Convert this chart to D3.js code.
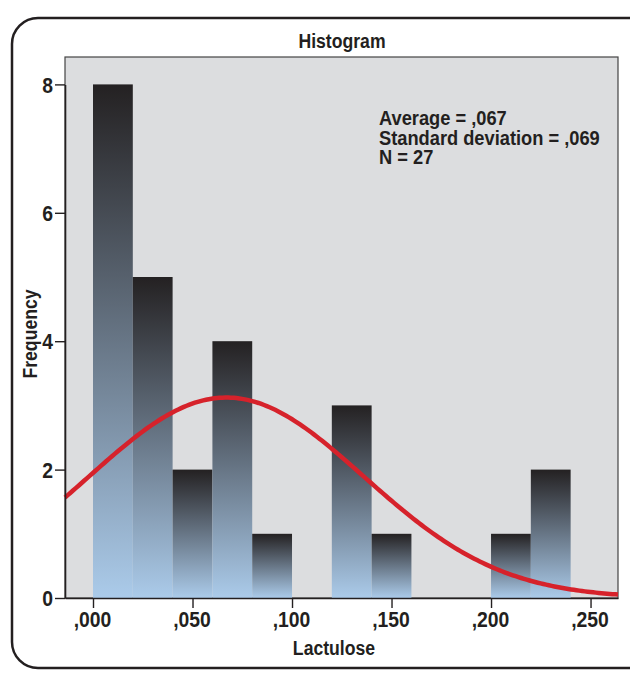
<!DOCTYPE html>
<html>
<head>
<meta charset="utf-8">
<script src="https://cdn.jsdelivr.net/npm/d3@7"></script>
<style>
  body { margin: 0; background: #fff; }
  svg text { font-family: "Liberation Sans", Arial, sans-serif; font-weight: bold; fill: #231f20; }
</style>
</head>
<body>
<svg id="chart" width="630" height="678"></svg>
<script>
(function(){
    // histogram bins (lower edge), bin width .02
    var binStarts = [0, .02, .04, .06, .08, .10, .12, .14, .16, .18, .20, .22];
    var counts    = [8, 5, 2, 4, 1, 0, 3, 1, 0, 0, 1, 2];
    var binWidth = .02;
    var xTicks = [0, .05, .10, .15, .20, .25];
    var yTicks = [0, 2, 4, 6, 8];
    var stats = { mean: .067, sd: .069, n: 27 };
    var statLines = ['Average = ,067', 'Standard deviation = ,069', 'N = 27'];

    var plot = {left: 65, right: 618, top: 57, bottom: 598};
    var ink = '#231f20';

    var svg = d3.select('#chart');
    var defs = svg.append('defs');
    var grad = defs.append('linearGradient')
        .attr('id', 'barGrad')
        .attr('x1', 0).attr('y1', 0).attr('x2', 0).attr('y2', 1);
    grad.append('stop').attr('offset', 0).attr('stop-color', '#242122');
    grad.append('stop').attr('offset', 1).attr('stop-color', '#abcbea');

    // outer rounded frame
    svg.append('rect')
        .attr('x', 12).attr('y', 18)
        .attr('width', 660).attr('height', 650)
        .attr('rx', 26)
        .attr('fill', 'none')
        .attr('stroke', ink)
        .attr('stroke-width', 2.5);

    var x = d3.scaleLinear().domain([-0.01407, 0.2638]).range([plot.left, plot.right]);
    var y = d3.scaleLinear().domain([0, 8]).range([plot.bottom, plot.bottom - 4 * 128.4]);

    // plot background
    svg.append('rect')
        .attr('x', plot.left).attr('y', plot.top)
        .attr('width', plot.right - plot.left).attr('height', plot.bottom - plot.top)
        .attr('fill', '#dcdddf')
        .attr('stroke', '#444')
        .attr('stroke-width', 1.2);

    // bars
    svg.append('g').selectAll('rect')
        .data(binStarts.map(function(b, i){ return {x0: b, c: counts[i]}; })
            .filter(function(d){ return d.c > 0; }))
        .join('rect')
        .attr('x', function(d){ return x(d.x0); })
        .attr('width', function(d){ return x(d.x0 + binWidth) - x(d.x0); })
        .attr('y', function(d){ return y(d.c); })
        .attr('height', function(d){ return y(0) - y(d.c); })
        .attr('fill', 'url(#barGrad)');

    // normal curve fitted to the stats
    var curvePts = d3.range(0, 201).map(function(i){
        var v = x.domain()[0] + (x.domain()[1] - x.domain()[0]) * i / 200;
        var z = (v - stats.mean) / stats.sd;
        var f = stats.n * binWidth / (stats.sd * Math.sqrt(2 * Math.PI)) * Math.exp(-z * z / 2);
        return [v, f];
    });
    svg.append('path')
        .datum(curvePts)
        .attr('fill', 'none')
        .attr('stroke', '#d6222b')
        .attr('stroke-width', 4.5)
        .attr('d', d3.line()
            .x(function(d){ return x(d[0]); })
            .y(function(d){ return y(d[1]); }));

    // axes
    var fmt = function(d){ return d3.format('.3f')(d).replace('0.', ','); };
    var xAxis = svg.append('g')
        .attr('transform', 'translate(0,' + plot.bottom + ')')
        .call(d3.axisBottom(x).tickValues(xTicks).tickFormat(fmt).tickSize(10).tickSizeOuter(0));
    var yAxis = svg.append('g')
        .attr('transform', 'translate(' + plot.left + ',0)')
        .call(d3.axisLeft(y).tickValues(yTicks).tickFormat(d3.format('d')).tickSize(10).tickSizeOuter(0));
    [xAxis, yAxis].forEach(function(a){
        a.attr('font-family', null).attr('font-size', null);
        a.select('.domain').attr('stroke', ink).attr('stroke-width', 1.6);
        a.selectAll('.tick line').attr('stroke', ink).attr('stroke-width', 1.4);
        a.selectAll('text').attr('font-size', 21.5).attr('fill', ink);
    });
    xAxis.selectAll('text').attr('dy', null).attr('y', null)
        .attr('transform', 'translate(-1,29) scale(0.9,1)');
    yAxis.selectAll('text').attr('x', null).attr('dy', '0.36em')
        .attr('transform', 'translate(-12,0) scale(0.9,1)');

    function label(px, py, txt, size, sq, anchor, rot){
        return svg.append('text')
            .attr('transform', 'translate(' + px + ',' + py + ')' +
                (rot ? ' rotate(' + rot + ')' : '') + ' scale(' + sq + ',1)')
            .attr('text-anchor', anchor)
            .attr('font-size', size)
            .text(txt);
    }

    // titles
    label(342, 48, 'Histogram', 21, 0.84, 'middle');
    label(334, 655, 'Lactulose', 21, 0.84, 'middle');
    label(37, 334, 'Frequency', 21, 0.84, 'middle', -90);

    // stats block
    statLines.forEach(function(t, i){
        label(379, 125 + i * 19.5, t, 21, 0.87, 'start');
    });
})();
</script>
</body>
</html>
